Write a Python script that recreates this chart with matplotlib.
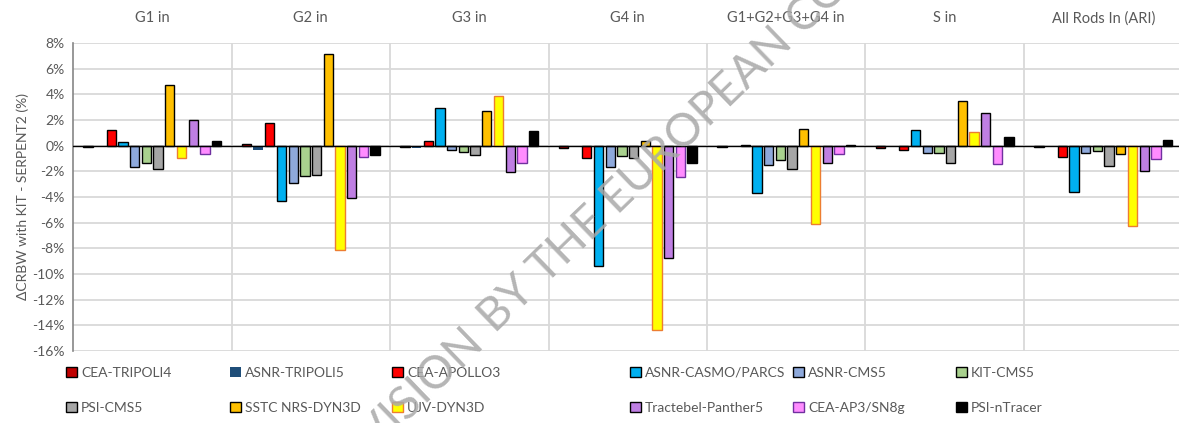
import numpy as np
import matplotlib.pyplot as plt
import matplotlib.transforms as mtransforms

plt.rcParams['font.family'] = ['Lato', 'DejaVu Sans']

# groups along the x axis
groups = ['G1 in', 'G2 in', 'G3 in', 'G4 in', 'G1+G2+G3+G4 in', 'S in', 'All Rods In (ARI)']

# series names
names = ['CEA-TRIPOLI4', 'ASNR-TRIPOLI5', 'CEA-APOLLO3', 'ASNR-CASMO/PARCS', 'ASNR-CMS5', 'KIT-CMS5',
         'PSI-CMS5', 'SSTC NRS-DYN3D', 'UJV-DYN3D', 'Tractebel-Panther5', 'CEA-AP3/SN8g', 'PSI-nTracer']

# values in % (nan = no bar)
cea_tripoli4 = [-0.08, 0.13, -0.08, -0.15, -0.10, -0.15, -0.12]
asnr_tripoli5 = [np.nan, -0.35, -0.15, -0.05, np.nan, np.nan, np.nan]
cea_apollo3 = [1.20, 1.78, 0.39, -0.99, 0.08, -0.31, -0.86]
asnr_casmo = [0.26, -4.35, 2.94, -9.35, -3.70, 1.20, -3.62]
asnr_cms5 = [-1.65, -2.90, -0.34, -1.64, -1.54, -0.55, -0.55]
kit_cms5 = [-1.38, -2.37, -0.52, -0.81, -1.15, -0.60, -0.39]
psi_cms5 = [-1.85, -2.30, -0.73, -0.94, -1.85, -1.33, -1.61]
sstc_dyn3d = [4.75, 7.17, 2.71, 0.34, 1.30, 3.49, -0.68]
ujv_dyn3d = [-0.94, -8.10, 3.88, -14.40, -6.07, 1.04, -6.25]
tractebel = [2.00, -4.06, -2.03, -8.78, -1.38, 2.58, -1.95]
cea_ap3 = [-0.68, -0.86, -1.33, -2.42, -0.68, -1.41, -1.02]
psi_ntracer = [0.37, -0.76, 1.15, -1.38, 0.05, 0.68, 0.44]

series = [cea_tripoli4, asnr_tripoli5, cea_apollo3, asnr_casmo, asnr_cms5, kit_cms5,
          psi_cms5, sstc_dyn3d, ujv_dyn3d, tractebel, cea_ap3, psi_ntracer]

faces = ['#C00000', '#1F4E79', '#FF0000', '#00B0F0', '#8EA9DB', '#A9D18E',
         '#A6A6A6', '#FFC000', '#FFFF00', '#BF7FE3', '#FF8CFF', '#000000']
edges = ['#000000', 'none', '#000000', '#000000', '#000000', '#000000',
         '#000000', '#000000', '#ED7D31', '#000000', '#7030A0', '#000000']

fig = plt.figure(figsize=(11.79, 4.23), dpi=100)
ax = fig.add_axes([73 / 1179, 1 - 351 / 423, 1109.5 / 1179, 308 / 423])

x = np.arange(len(groups))
slot = 0.0738
width = 0.0587
bars = []
for i, vals in enumerate(series):
    b = ax.bar(x + (i - 5.5) * slot, vals, width, color=faces[i], edgecolor=edges[i],
               linewidth=1.0, label=names[i], zorder=3)
    bars.append(b)

ax.set_xlim(-0.5, 6.5)
ax.set_ylim(-16, 8)
ax.set_yticks(np.arange(-16, 9, 2))
ax.set_yticklabels([f'{v}%' for v in range(-16, 9, 2)])
ax.set_xticks([])
ax.tick_params(axis='y', length=0, labelsize=10, labelcolor='#595959', pad=6)
ax.yaxis.grid(True, color='#D9D9D9', linewidth=1.3, zorder=0)
for g in range(1, 7):
    ax.axvline(g - 0.5, color='#D9D9D9', linewidth=1.3, zorder=0)
ax.axhline(0, color='#000000', linewidth=1.0, zorder=4)
for s in ['top', 'right', 'bottom']:
    ax.spines[s].set_visible(False)
ax.spines['left'].set_color('#868686')
ax.spines['left'].set_linewidth(1.2)

ax.set_ylabel('\u0394CRBW with KIT - SERPENT2 (%)', fontsize=10, color='#595959', labelpad=2)

trans = mtransforms.blended_transform_factory(ax.transData, ax.transAxes)
for g, name in enumerate(groups):
    ax.text(g, 1.081, name, transform=trans, ha='center', va='center',
            fontsize=10.5, color='#595959')

# legend, one column at a time (Excel-like spacing)
col_x = [68, 232, 394, 632, 795, 958]
for c in range(6):
    hs = [bars[c], bars[c + 6]]
    ls = [names[c], names[c + 6]]
    fig.legend(hs, ls, loc='upper left', bbox_to_anchor=(col_x[c] / 1179 - 0.006, 1 - 361 / 423),
               frameon=False, fontsize=10, labelcolor='#595959', handlelength=0.75,
               handleheight=0.75, handletextpad=0.3, labelspacing=1.7, borderaxespad=0)

# watermark
fig.text(485 / 1179, 1 - 343 / 423, 'REVISION', rotation=44, rotation_mode='anchor',
         ha='right', va='baseline', fontsize=33, color='#A8A8A8', alpha=0.85, zorder=10)
fig.text(495 / 1179, 1 - 334 / 423, 'BY THE EUROPEAN COMMISSION', rotation=44,
         rotation_mode='anchor', ha='left', va='baseline', fontsize=33,
         color='#A8A8A8', alpha=0.85, zorder=10)

fig.savefig('out.png', dpi=100)
